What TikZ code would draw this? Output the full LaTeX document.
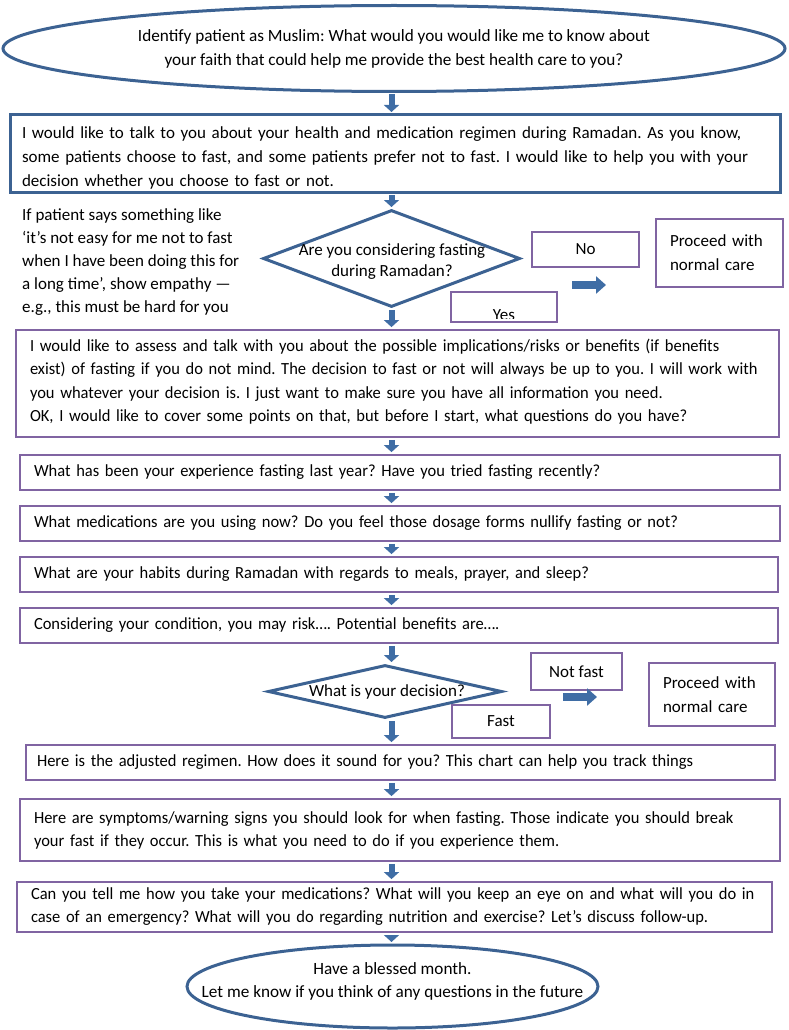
\documentclass[tikz,border=0pt]{standalone}
\usepackage{fontspec}
\setmainfont{Carlito}
\newfontfamily\condfont{Carlito}[FakeStretch=0.97]
\usetikzlibrary{shapes.geometric,arrows.meta}
\definecolor{edgeblue}{HTML}{3C6292}
\definecolor{arrowblue}{HTML}{3F6DA5}
\definecolor{boxpurple}{HTML}{8064A2}
\frenchspacing
\tikzset{
  bbox/.style={draw=edgeblue, line width=3pt, inner xsep=12pt, inner ysep=0pt, align=left},
  pbox/.style={draw=boxpurple, line width=2.8pt, inner xsep=14pt, inner ysep=0pt, align=left, font=\condfont\fontsize{17}{23}\selectfont},
  eshape/.style={ellipse, draw=edgeblue, line width=3pt, inner sep=0pt},
  dshape/.style={diamond, draw=edgeblue, line width=3pt, inner sep=0pt},
  blk/.style={-{Triangle[width=15pt,length=7pt]}, line width=6pt, draw=arrowblue, shorten <=1.5pt, shorten >=1.5pt},
  blkr/.style={-{Triangle[width=17pt,length=10pt]}, line width=8pt, draw=arrowblue}
}
\begin{document}
\begin{tikzpicture}[x=1pt, y=-1pt, font=\fontsize{17}{24}\selectfont]
\useasboundingbox (0,0) rectangle (788,1030);
% top of the chart
\node[eshape, minimum width=782, minimum height=86, align=center, font=\fontsize{17.2}{24}\selectfont] (ident) at (394,48.5)
  {Identify patient as Muslim: What would you would like me to know about\\your faith that could help me provide the best health care to you?};
\node[bbox, text width=746, minimum height=77] (talk) at (395,153.5)
  {\rule{0pt}{20pt}I would like to talk to you about your health and medication regimen during Ramadan. As you know,\\some patients choose to fast, and some patients prefer not to fast. I would like to help you with your\\decision whether you choose to fast or not.};
% first question
\node[dshape, minimum width=257, minimum height=97] (ask) at (391.5,258.5) {};
\node[align=center, font=\fontsize{17}{21}\selectfont] (askt) at (392,262) {Are you considering fasting\\during Ramadan?};
\node[anchor=north west, align=left, inner sep=0pt, font=\fontsize{17}{23}\selectfont] (empathy) at (22,208)
  {If patient says something like\\‘it’s not easy for me not to fast\\when I have been doing this for\\a long time’, show empathy —\\e.g., this must be hard for you};
\node[pbox, minimum width=107, minimum height=35, align=center, inner xsep=0pt, font=\fontsize{17}{23}\selectfont] (no) at (585.5,249.5) {No};
\node[pbox, text width=99, minimum height=68, font=\fontsize{17}{24}\selectfont] (proc) at (719.5,253) {Proceed with\\normal care};
\node[pbox, minimum width=106, minimum height=30] (yes) at (504,307) {};
\begin{scope}
\clip (yes.north west) rectangle ([yshift=5pt]yes.south east);
\node[font=\fontsize{17}{23}\selectfont] (yest) at ([yshift=-8pt]yes.center) {Yes};
\end{scope}
\coordinate (nos) at (572,285);
\coordinate (noe) at (606,285);
% the talk
\node[pbox, text width=735, minimum height=107, font=\condfont\fontsize{17}{23.5}\selectfont] (assess) at (397.5,383.5)
  {I would like to assess and talk with you about the possible implications/risks or benefits (if benefits\\exist) of fasting if you do not mind. The decision to fast or not will always be up to you. I will work with\\you whatever your decision is. I just want to make sure you have all information you need.\\OK, I would like to cover some points on that, but before I start, what questions do you have?\rule[-6pt]{0pt}{6pt}};
\node[pbox, text width=732, minimum height=35] (exper) at (400,472.5)
  {What has been your experience fasting last year? Have you tried fasting recently?};
\node[pbox, text width=732, minimum height=35] (meds) at (400,523.5)
  {What medications are you using now? Do you feel those dosage forms nullify fasting or not?};
\node[pbox, text width=730, minimum height=35] (habit) at (399,574.5)
  {What are your habits during Ramadan with regards to meals, prayer, and sleep?};
\node[pbox, text width=730, minimum height=35] (risk) at (399,625.5)
  {Considering your condition, you may risk…. Potential benefits are….};
% second question
\node[dshape, minimum width=234, minimum height=53] (dec) at (385,691.5) {};
\node (dect) at (387,692) {What is your decision?};
\node[pbox, minimum width=91, minimum height=37, align=center, inner xsep=0pt, font=\fontsize{17}{23}\selectfont] (notfast) at (576.5,671.5) {Not fast};
\node[pbox, text width=98, minimum height=63, font=\fontsize{17}{24}\selectfont] (proc2) at (712,694.5) {Proceed with\\normal care};
\node[pbox, minimum width=98, minimum height=33, align=center, inner xsep=0pt, font=\fontsize{17}{23}\selectfont] (fast) at (501,721.5) {Fast};
\coordinate (nfs) at (563,697);
\coordinate (nfe) at (597,697);
% after the decision
\node[pbox, text width=727, minimum height=35, inner xsep=11pt] (regim) at (400.5,762.5)
  {Here is the adjusted regimen. How does it sound for you? This chart can help you track things};
\node[pbox, text width=732, minimum height=62] (warn) at (400,830)
  {Here are symptoms/warning signs you should look for when fasting. Those indicate you should break\\your fast if they occur. This is what you need to do if you experience them.};
\node[pbox, text width=727, minimum height=50] (plan) at (394.5,907)
  {Can you tell me how you take your medications? What will you keep an eye on and what will you do in\\case of an emergency? What will you do regarding nutrition and exercise? Let’s discuss follow-up.};
\node[eshape, minimum width=411, minimum height=83] (bless) at (392.5,986.5) {};
\node[align=center, font=\fontsize{17.2}{23}\selectfont] (blesst) at ([yshift=5pt]bless.center)
  {Have a blessed month.\\Let me know if you think of any questions in the future};
% arrows
\draw[blk] (ident.south -| ask) -- (talk.north -| ask);
\draw[blk] (talk.south -| ask) -- (ask.north);
\draw[blk] (ask.south) -- (assess.north -| ask);
\draw[blk] (assess.south -| ask) -- (exper.north -| ask);
\draw[blk] (exper.south -| ask) -- (meds.north -| ask);
\draw[blk] (meds.south -| ask) -- (habit.north -| ask);
\draw[blk] (habit.south -| ask) -- (risk.north -| ask);
\draw[blk] (risk.south -| ask) -- (dec.north -| ask);
\draw[blk] (dec.south -| ask) -- (regim.north -| ask);
\draw[blk] (regim.south -| ask) -- (warn.north -| ask);
\draw[blk] (warn.south -| ask) -- (plan.north -| ask);
\draw[blk] (plan.south -| ask) -- (bless.north -| ask);
\draw[blkr] (nos) -- (noe);
\draw[blkr] (nfs) -- (nfe);
\end{tikzpicture}
\end{document}
